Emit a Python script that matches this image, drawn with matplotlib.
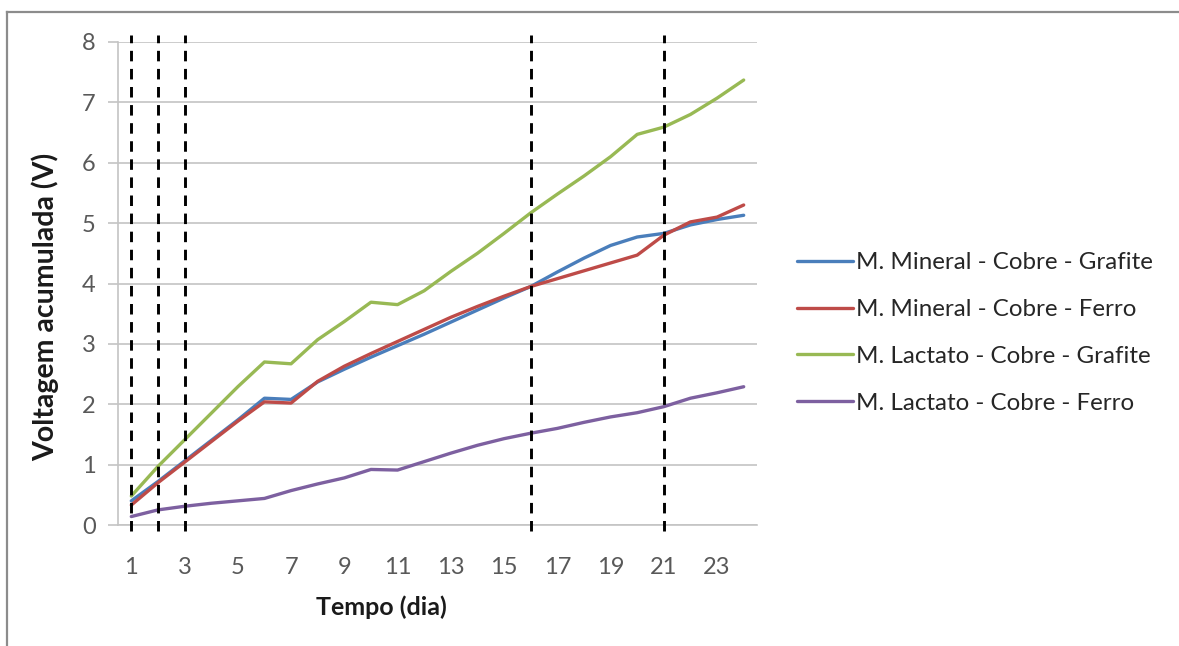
import matplotlib

matplotlib.use("Agg")

import matplotlib.pyplot as plt
from matplotlib.lines import Line2D

plt.rcParams["font.family"] = ["Lato", "DejaVu Sans"]

# Excel 2007 default series colours
BLUE = "#4A7EBB"
RED = "#BE4B48"
GREEN = "#98B954"
PURPLE = "#7D60A0"
GRID_COLOR = "#C4C4C4"
TICK_TEXT = "#595959"
FRAME_COLOR = "#8C8C8C"

days = list(range(1, 25))
mineral_grafite = [0.40, 0.72, 1.06, 1.40, 1.74, 2.10, 2.08, 2.37, 2.58, 2.78, 2.97, 3.16,
                   3.36, 3.56, 3.76, 3.95, 4.19, 4.42, 4.63, 4.77, 4.83, 4.97, 5.06, 5.13]
mineral_ferro = [0.33, 0.70, 1.04, 1.38, 1.72, 2.04, 2.02, 2.38, 2.63, 2.84, 3.04, 3.24,
                 3.44, 3.62, 3.79, 3.95, 4.08, 4.21, 4.34, 4.47, 4.80, 5.02, 5.10, 5.30]
lactato_grafite = [0.48, 0.97, 1.41, 1.85, 2.29, 2.70, 2.67, 3.07, 3.37, 3.69, 3.65, 3.88,
                   4.20, 4.50, 4.83, 5.17, 5.48, 5.78, 6.10, 6.47, 6.59, 6.80, 7.07, 7.37]
lactato_ferro = [0.14, 0.25, 0.31, 0.36, 0.40, 0.44, 0.57, 0.68, 0.78, 0.92, 0.91, 1.05,
                 1.19, 1.32, 1.43, 1.52, 1.60, 1.70, 1.79, 1.86, 1.96, 2.10, 2.19, 2.29]

series_labels = [
    "M. Mineral - Cobre - Grafite",
    "M. Mineral - Cobre - Ferro",
    "M. Lactato - Cobre - Grafite",
    "M. Lactato - Cobre - Ferro",
]
marker_days = [1, 2, 3, 16, 21]
x_ticks = list(range(1, 24, 2))
y_ticks = list(range(0, 9))

W, H = 1179, 646
fig = plt.figure(figsize=(W / 100, H / 100), dpi=100, facecolor="white")
ax = fig.add_axes([118 / W, 1 - 525 / H, (757 - 118) / W, (525 - 42) / H])

series = [mineral_grafite, mineral_ferro, lactato_grafite, lactato_ferro]
colors = [BLUE, RED, GREEN, PURPLE]
handles = []
for values, color, label in zip(series, colors, series_labels):
    (line,) = ax.plot(days, values, color=color, linewidth=2.4, label=label,
                      solid_joinstyle="round", solid_capstyle="round", zorder=3)
    handles.append(line)

# vertical dashed markers, a bit taller than the plot area
ax.vlines(marker_days, -0.1, 8.12, colors="black", linestyles=(0, (3.6, 2.6)),
          linewidth=2.1, clip_on=False, zorder=4)

ax.set_xlim(0.5, 24.5)
ax.set_ylim(0, 8)
ax.set_xticks(x_ticks)
ax.set_yticks(y_ticks)
ax.grid(axis="y", color=GRID_COLOR, linewidth=1.2, zorder=0)
ax.set_axisbelow(True)

for spine in ("top", "right"):
    ax.spines[spine].set_visible(False)
ax.spines["left"].set_color(GRID_COLOR)
ax.spines["bottom"].set_color(GRID_COLOR)
ax.spines["left"].set_linewidth(1.2)
ax.spines["bottom"].set_linewidth(1.2)

ax.tick_params(axis="y", length=7, width=1.2, color=GRID_COLOR, pad=9,
               labelsize=17, labelcolor=TICK_TEXT)
ax.tick_params(axis="x", length=0, pad=23, labelsize=17, labelcolor=TICK_TEXT)

ax.set_xlabel("Tempo (dia)", fontsize=18, fontweight="bold", color="#1a1a1a")
ax.xaxis.set_label_coords((381 - 118) / (757 - 118), (525 - 607) / (525 - 42))
ax.set_ylabel("Voltagem acumulada (V)", fontsize=20.5, fontweight="bold", color="#1a1a1a")
ax.yaxis.set_label_coords((45 - 118) / (757 - 118), (525 - 307) / (525 - 42))
ax.xaxis.label.set_va("center")
ax.yaxis.label.set_va("center")

fig.legend(handles=handles, loc="center left",
           bbox_to_anchor=(797 / W, 1 - 333 / H), frameon=False,
           fontsize=17.4, handlelength=2.3, handletextpad=0.15,
           labelspacing=1.07, borderpad=0, borderaxespad=0,
           labelcolor="#262626")

# outer chart frame (only left and top edges are visible in the crop)
fig.add_artist(Line2D([7 / W, 7 / W], [0, 1 - 12 / H], color=FRAME_COLOR,
                      linewidth=1.6, transform=fig.transFigure))
fig.add_artist(Line2D([7 / W, 1], [1 - 12 / H, 1 - 12 / H], color=FRAME_COLOR,
                      linewidth=1.6, transform=fig.transFigure))

fig.savefig("out.png", dpi=100, facecolor="white")
